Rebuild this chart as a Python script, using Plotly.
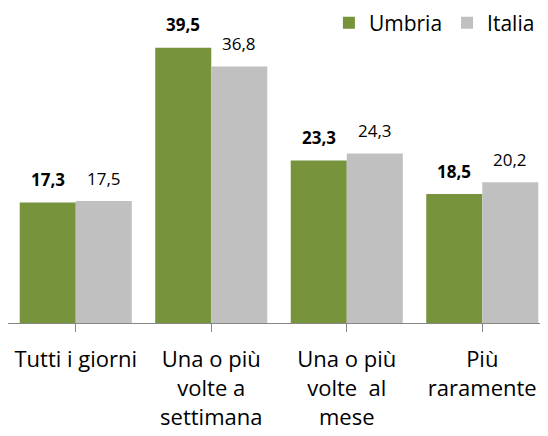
import plotly.graph_objects as go

categories = ["Tutti i giorni", "Una o più<br>volte a<br>settimana", "Una o più<br>volte\u00a0 al<br>mese", "Più<br>raramente"]
umbria = [17.3, 39.5, 23.3, 18.5]
italia = [17.5, 36.8, 24.3, 20.2]
series_names = ["Umbria", "Italia"]
colors = ["#77933C", "#C0C0C0"]

FONT = "Open Sans"

def fmt(v):
    return f"{v:.1f}".replace(".", ",")

fig = go.Figure()
xs = list(range(len(categories)))
fig.add_trace(go.Bar(x=xs, y=umbria, name=series_names[0], marker_color=colors[0],
                     marker_line_width=0))
fig.add_trace(go.Bar(x=xs, y=italia, name=series_names[1], marker_color=colors[1],
                     marker_line_width=0))

annotations = []
for i, (u, it) in enumerate(zip(umbria, italia)):
    annotations.append(dict(x=i, y=u, xshift=-28, yshift=23, yanchor="middle", xanchor="center",
                            text=f"<b>{fmt(u)}</b>", showarrow=False,
                            font=dict(family=FONT, size=17, color="#000000")))
    annotations.append(dict(x=i, y=it, xshift=28, yshift=23, yanchor="middle", xanchor="center",
                            text=fmt(it), showarrow=False,
                            font=dict(family=FONT, size=17, color="#000000")))

fig.update_layout(
    width=540, height=428,
    margin=dict(l=0, r=0, t=2, b=113, autoexpand=False),
    paper_bgcolor="white", plot_bgcolor="white",
    barmode="group", bargap=0.173, bargroupgap=0,
    font=dict(family=FONT, color="#000000"),
    showlegend=True,
    legend=dict(orientation="h", x=0.985, xanchor="right", y=0.965, yanchor="middle",
                xref="container", yref="container",
                font=dict(family=FONT, size=21, color="#000000"),
                itemwidth=30, traceorder="normal", bgcolor="rgba(0,0,0,0)"),
    annotations=annotations,
)
fig.update_xaxes(
    tickmode="array", tickvals=xs, ticktext=categories,
    range=[-0.5, 3.485],
    showline=True, linecolor="#868686", linewidth=1,
    ticks="outside", tickson="boundaries", ticklen=8, tickcolor="#868686",
    tickfont=dict(family=FONT, size=22, color="#000000"),
    ticklabelstandoff=9,
    showgrid=False, zeroline=False, automargin=False,
)
fig.update_yaxes(range=[0, 44.9], visible=False, showgrid=False, zeroline=False, automargin=False)

fig.write_html("out.html")
